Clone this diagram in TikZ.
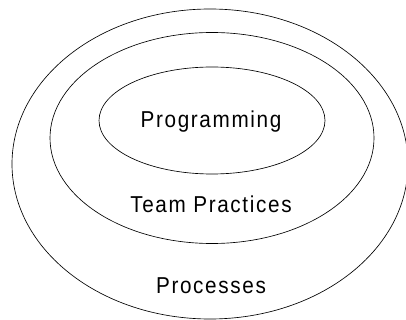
\documentclass[tikz,border=0pt]{standalone}
\usepackage{fontspec}
\setmainfont{Liberation Sans}
\newfontfamily\lblfont[LetterSpace=8]{Liberation Sans}
\newcommand{\lbltext}[1]{\scalebox{0.9}[1.0]{\lblfont\fontsize{23}{27}\selectfont #1}}
\tikzset{
  ring/.style={draw=black, line width=0.65pt},
  lbl/.style={anchor=base, inner sep=0pt}
}
\begin{document}
\begin{tikzpicture}[x=1pt,y=-1pt]
\useasboundingbox (0,0) rectangle (406,320);
\begin{scope}
\clip (0,0) rectangle (406,320);
\draw[ring] (210,164) ellipse [x radius=198, y radius=155];
\draw[ring] (212,138) ellipse [x radius=162, y radius=105.5];
\draw[ring] (212,120.5) ellipse [x radius=113, y radius=53.5];
\end{scope}
\node[lbl] (prog) at (211,128) {\lbltext{Programming}};
\node[lbl] (team) at (211,212) {\lbltext{Team Practices}};
\node[lbl] (proc) at (211,293) {\lbltext{Processes}};
\end{tikzpicture}
\end{document}
